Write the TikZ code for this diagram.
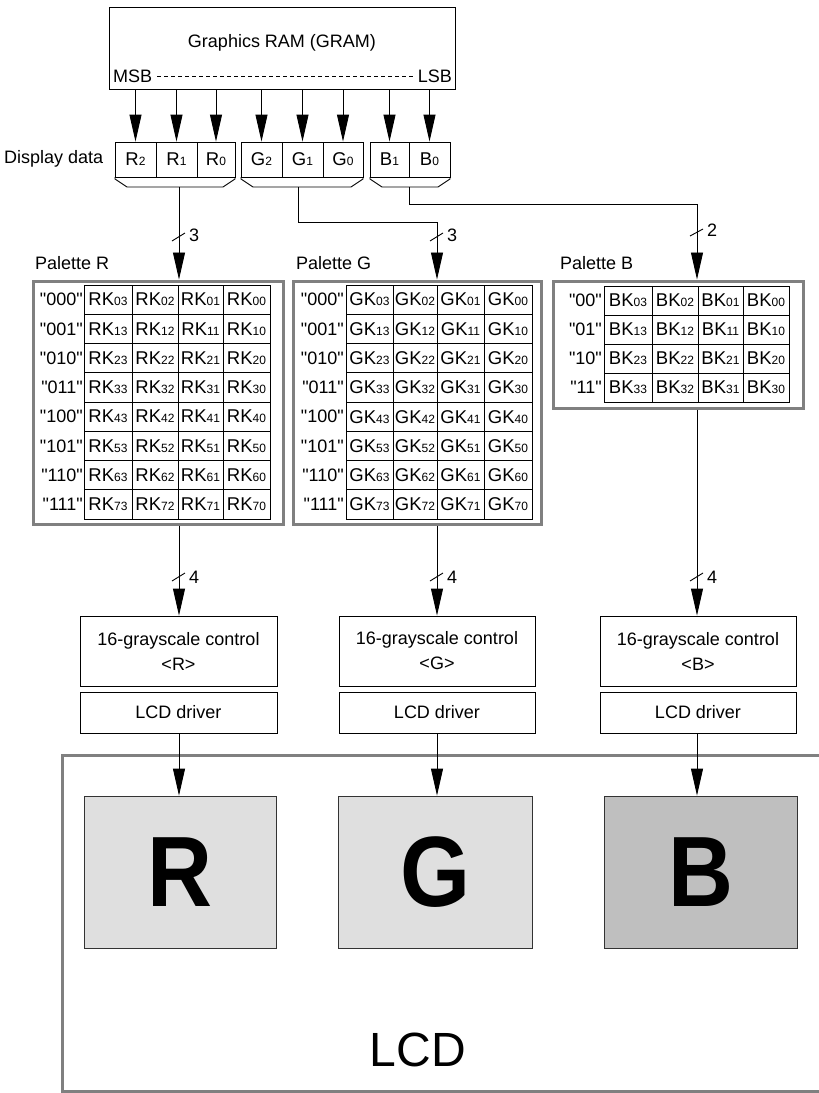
\documentclass[tikz,border=0pt]{standalone}
\usepackage{fontspec}
\setmainfont{Liberation Sans}[Ligatures=TeXOff]
\usetikzlibrary{arrows.meta}
\newcommand\dig[1]{{\fontsize{12}{12}\selectfont #1}}
\definecolor{bordergray}{HTML}{808080}
\definecolor{lightsq}{HTML}{DFDFDF}
\definecolor{darksq}{HTML}{BFBFBF}
\begin{document}
\begin{tikzpicture}[x=1pt,y=-1pt,
  txt/.style={font=\fontsize{18}{22}\selectfont, inner sep=0pt},
  thinln/.style={line width=0.9pt},
  arr/.style={thinln, -{Triangle[length=27pt,width=12pt]}},
  box/.style={draw, thinln, inner sep=0pt, font=\fontsize{18}{25}\selectfont, align=center},
  cell/.style={draw, thinln, inner sep=0pt, minimum height=29.25pt, font=\fontsize{18.5}{18}\selectfont},
  dcell/.style={draw, thinln, inner sep=0pt, minimum height=35pt, font=\fontsize{18.5}{18}\selectfont},
  palbox/.style={draw=bordergray, line width=3pt, inner sep=0pt},
  rowlab/.style={anchor=east, inner sep=0pt, font=\fontsize{18}{18}\selectfont},
  sq/.style={draw=black!80, line width=0.8pt, inner sep=0pt, font=\fontsize{100}{100}\selectfont\bfseries},
]
\useasboundingbox (0,0) rectangle (819,1093);

% GRAM
\node[box, minimum width=346pt, minimum height=82pt] (gram) at (282,48) {};
\node[txt] (gramtitle) at (282,43) {Graphics RAM (GRAM)};
\node[txt, anchor=west] (msb) at (113,76) {MSB};
\node[txt, anchor=east] (lsb) at (452,76) {LSB};
\draw[line width=0.7pt, dash pattern=on 4pt off 3pt] ([xshift=5pt]msb.east) -- ([xshift=-5pt]lsb.west);

% display data
\node[txt, anchor=west] (dd) at (4,159) {Display data};
\foreach \nm/\l/\d/\xc/\ww in {R2/R/2/135.5/41, R1/R/1/176.5/41, R0/R/0/216/38, G2/G/2/261.5/41, G1/G/1/302.5/41, G0/G/0/343/40, B1/B/1/389.5/39, B0/B/0/429.5/41} {
  \node[dcell, minimum width=\ww] (d\nm) at (\xc,159.5) {\l\dig{\d}};
  \draw[arr] (gram.south -| d\nm) -- (d\nm.north);
}
\draw[thinln] (115,177) -- (115,179) -- (127,187) -- (223,187) -- (235,179) -- (235,177);
\draw[thinln] (241,177) -- (241,179) -- (253,187) -- (351,187) -- (363,179) -- (363,177);
\draw[thinln] (370,177) -- (370,179) -- (382,187) -- (438,187) -- (450,179) -- (450,177);

\coordinate (rOut) at (179,187);
\coordinate (gOut) at (298,187);
\coordinate (bOut) at (409,187);
\coordinate (gTurn) at (437,222);
\coordinate (bTurn) at (697,204);
\coordinate (xR) at (179,0);
\coordinate (xG) at (437,0);
\coordinate (xB) at (697,0);

% palettes
\node[palbox, minimum width=250pt, minimum height=243pt] (palR) at (158,402.5) {};
\node[palbox, minimum width=248pt, minimum height=243pt] (palG) at (417,402.5) {};
\node[palbox, minimum width=250pt, minimum height=127pt] (palB) at (678,344.5) {};
\node[txt, anchor=west] (palRlab) at (35,263) {Palette R};
\node[txt, anchor=west] (palGlab) at (296,263) {Palette G};
\node[txt, anchor=west] (palBlab) at (560,263) {Palette B};

\draw[arr] (rOut) -- (rOut |- palR.north);
\draw[arr] (gOut) |- (gTurn) -- (gTurn |- palG.north);
\draw[arr] (bOut) |- (bTurn) -- (bTurn |- palB.north);

\draw[thinln] (172,241) -- (185,233);
\node[txt, anchor=west] (nr3) at (189,235) {3};
\draw[thinln] (430,241) -- (443,233);
\node[txt, anchor=west] (ng3) at (447,235) {3};
\draw[thinln] (690,236) -- (703,229);
\node[txt, anchor=west] (nb2) at (707,230) {2};

\foreach \ii/\cc in {0/000,1/001,2/010,3/011,4/100,5/101,6/110,7/111} {
  \pgfmathsetmacro\yc{285+29.25*(\ii+0.5)}
  \node[rowlab] (R-lab-\ii) at (83,\yc) {"\cc"};
  \node[rowlab] (G-lab-\ii) at (344,\yc) {"\cc"};
  \foreach \jj/\xc/\ww in {3/108/48,2/155/46,1/200.5/45,0/246.5/47} {
    \node[cell, minimum width=\ww] (R-\ii-\jj) at (\xc,\yc) {RK\dig{\ii\jj}};
  }
  \foreach \jj/\xc/\ww in {3/369.5/47,2/415/44,1/460.5/47,0/508/48} {
    \node[cell, minimum width=\ww] (G-\ii-\jj) at (\xc,\yc) {GK\dig{\ii\jj}};
  }
}
\foreach \ii/\cc in {0/00,1/01,2/10,3/11} {
  \pgfmathsetmacro\yc{286+29*(\ii+0.5)}
  \node[rowlab] (B-lab-\ii) at (602,\yc) {"\cc"};
  \foreach \jj/\xc/\ww in {3/628/48,2/675/46,1/720.5/45,0/766/46} {
    \node[cell, minimum width=\ww, minimum height=29pt] (B-\ii-\jj) at (\xc,\yc) {BK\dig{\ii\jj}};
  }
}

% grayscale and drivers
\node[box, minimum width=197pt, minimum height=70pt] (gsR) at (178.5,651) {16-grayscale control\\<R>};
\node[box, minimum width=196pt, minimum height=70pt] (gsG) at (437,651) {16-grayscale control\\<G>};
\node[box, minimum width=196pt, minimum height=70pt] (gsB) at (698,651) {16-grayscale control\\<B>};
\node[box, minimum width=197pt, minimum height=41pt] (drvR) at (178.5,712.5) {LCD driver};
\node[box, minimum width=196pt, minimum height=41pt] (drvG) at (437,712.5) {LCD driver};
\node[box, minimum width=196pt, minimum height=41pt] (drvB) at (698,712.5) {LCD driver};

\draw[arr] (palR.south -| xR) -- (gsR.north -| xR);
\draw[arr] (palG.south -| xG) -- (gsG.north -| xG);
\draw[arr] (palB.south -| xB) -- (gsB.north -| xB);
\draw[thinln] (172,581) -- (185,573);
\node[txt, anchor=west] (nr4) at (189,577) {4};
\draw[thinln] (430,581) -- (443,573);
\node[txt, anchor=west] (ng4) at (447,577) {4};
\draw[thinln] (690,581) -- (703,573);
\node[txt, anchor=west] (nb4) at (707,577) {4};

% LCD
\draw[draw=bordergray, line width=3pt] (830,755) -- (62,755) -- (62,1091.5) -- (830,1091.5);
\node[sq, fill=lightsq, minimum width=192pt, minimum height=152pt] (sqR) at (180,872) {\scalebox{0.9}[1]{R}};
\node[sq, fill=lightsq, minimum width=194pt, minimum height=152pt] (sqG) at (435,872) {\scalebox{0.9}[1]{G}};
\node[sq, fill=darksq, minimum width=193pt, minimum height=152pt] (sqB) at (700.5,872) {\scalebox{0.9}[1]{B}};
\node[txt, font=\fontsize{48}{48}\selectfont] (lcd) at (418,1050) {LCD};

\draw[arr] (drvR.south -| xR) -- (sqR.north -| xR);
\draw[arr] (drvG.south -| xG) -- (sqG.north -| xG);
\draw[arr] (drvB.south -| xB) -- (sqB.north -| xB);
\end{tikzpicture}
\end{document}
